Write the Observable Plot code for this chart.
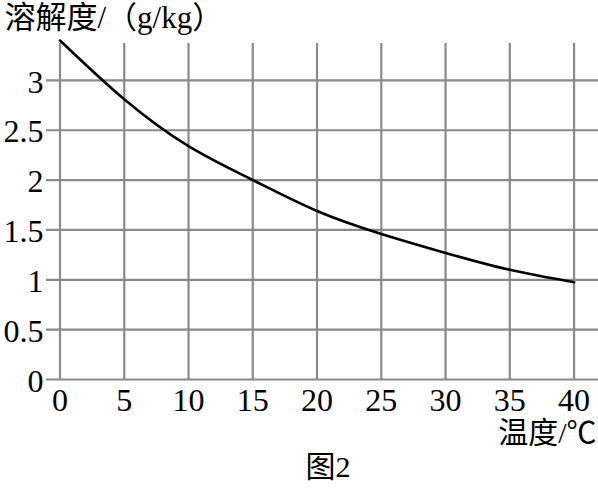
<!DOCTYPE html>
<html><head><meta charset="utf-8">
<script src="https://cdn.jsdelivr.net/npm/d3@7"></script>
<script src="https://cdn.jsdelivr.net/npm/@observablehq/plot@0.6"></script>
<style>body{margin:0;background:#fff}</style>
</head><body><div id="chart"></div>
<script>
const temps = [0, 5, 10, 15, 20, 25, 30, 35, 40];
const solubility = [3.40, 2.81, 2.34, 2.00, 1.69, 1.46, 1.27, 1.10, 0.975];
const xTicks = [0, 5, 10, 15, 20, 25, 30, 35, 40];
const yTicks = [0, 0.5, 1, 1.5, 2, 2.5, 3];
const yLabel = "溶解度/（g/kg）";
const xLabel = "温度/℃";
const caption = "图2";

const data = temps.map((t, i) => ({t, s: solubility[i]}));
const font = '"Liberation Serif", "Noto Sans CJK SC", serif';

const chart = Plot.plot({
  width: 598, height: 490,
  marginLeft: 46, marginRight: 0, marginTop: 43, marginBottom: 111,
  style: {fontFamily: font, background: "#fff", color: "#000"},
  x: {domain: [-1.05, 41.9]},
  y: {domain: [0, 3.37]},
  marks: [
    Plot.ruleY(yTicks, {stroke: "#8a8a8a", strokeWidth: 2.2}),
    Plot.ruleX(xTicks, {stroke: "#8a8a8a", strokeWidth: 2.2}),
    Plot.line(data, {x: "t", y: "s", curve: "natural", stroke: "#000", strokeWidth: 2.6}),
    Plot.axisX(xTicks, {tickSize: 0, tickPadding: 9, fontSize: 32, label: null}),
    Plot.axisY(yTicks, {tickSize: 0, tickPadding: 3, fontSize: 32, label: null, dy: 2, tickFormat: d => String(d)}),
    Plot.text([yLabel], {frameAnchor: "top-left", dx: -42, dy: -25, textAnchor: "start", lineAnchor: "middle", fontSize: 31}),
    Plot.text([xLabel], {frameAnchor: "bottom-right", dx: -2, dy: 54, textAnchor: "end", lineAnchor: "middle", fontSize: 30}),
    Plot.text([caption], {frameAnchor: "bottom", dx: 5.5, dy: 88, textAnchor: "middle", lineAnchor: "middle", fontSize: 30})
  ]
});
document.getElementById("chart").append(chart);
</script>
</body></html>
